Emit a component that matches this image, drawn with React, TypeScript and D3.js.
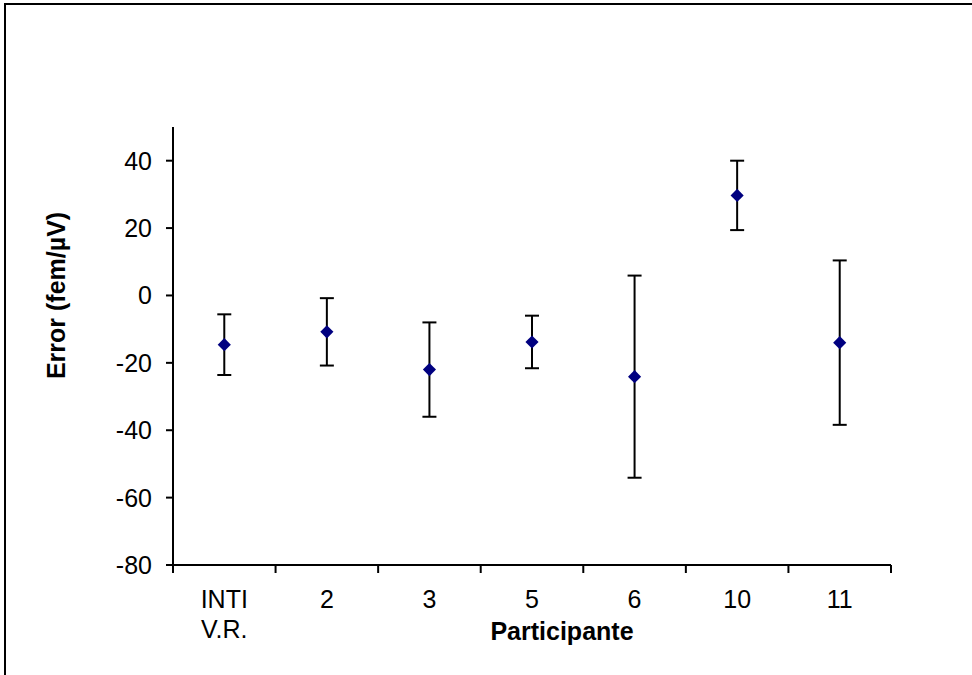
import React, { useRef, useEffect } from 'react';
import * as d3 from 'd3';

// participants (first one has two lines)
const participants = ['INTI\nV.R.', '2', '3', '5', '6', '10', '11'];
// error values and uncertainties (fem/µV)
const errors = [-14.6, -10.8, -22.0, -13.8, -24.1, 29.7, -14.0];
const uncertainties = [9.0, 10.0, 14.0, 7.8, 30.0, 10.3, 24.4];
const yTicks = [-80, -60, -40, -20, 0, 20, 40];

const W = 972;
const H = 675;
const FONT = 'Arial, "Liberation Sans", sans-serif';
const FS = 25;

const App = () => {
  const svgRef = useRef<SVGSVGElement | null>(null);

  useEffect(() => {
    if (!svgRef.current) return;
    const svg = d3.select(svgRef.current);
    svg.selectAll('*').remove();

    // outer frame of the chart area
    svg.append('rect')
      .attr('x', 5)
      .attr('y', 4)
      .attr('width', W + 20)
      .attr('height', H + 20)
      .attr('fill', '#fff')
      .attr('stroke', '#000')
      .attr('stroke-width', 2);

    const left = 173, right = 891, top = 127, bottom = 565;

    const x = d3.scaleBand<string>()
      .domain(participants)
      .range([left, right]);

    const y = d3.scaleLinear()
      .domain([-80, 50])
      .range([bottom, top]);

    // y axis
    svg.append('line')
      .attr('x1', left).attr('x2', left)
      .attr('y1', top).attr('y2', bottom)
      .attr('stroke', '#000').attr('stroke-width', 2);

    const yt = svg.append('g');
    yTicks.forEach(t => {
      yt.append('line')
        .attr('x1', left - 7).attr('x2', left)
        .attr('y1', y(t)).attr('y2', y(t))
        .attr('stroke', '#000').attr('stroke-width', 2);
      yt.append('text')
        .attr('x', 152)
        .attr('y', y(t))
        .attr('dy', '0.36em')
        .attr('text-anchor', 'end')
        .attr('font-family', FONT)
        .attr('font-size', FS)
        .text(t);
    });

    // x axis
    svg.append('line')
      .attr('x1', left).attr('x2', right)
      .attr('y1', bottom).attr('y2', bottom)
      .attr('stroke', '#000').attr('stroke-width', 2);

    const edges = participants.map(p => x(p) as number).concat([right]);
    edges.forEach(e => {
      svg.append('line')
        .attr('x1', e).attr('x2', e)
        .attr('y1', bottom).attr('y2', bottom + 8)
        .attr('stroke', '#000').attr('stroke-width', 2);
    });

    participants.forEach(p => {
      const cx = (x(p) as number) + x.bandwidth() / 2;
      const lines = p.split('\n');
      const txt = svg.append('text')
        .attr('x', cx)
        .attr('y', 608)
        .attr('text-anchor', 'middle')
        .attr('font-family', FONT)
        .attr('font-size', FS);
      lines.forEach((l, i) => {
        txt.append('tspan')
          .attr('x', cx)
          .attr('dy', i === 0 ? 0 : 30)
          .text(l);
      });
    });

    // error bars
    const marks = svg.append('g');
    participants.forEach((p, i) => {
      const cx = (x(p) as number) + x.bandwidth() / 2;
      const hi = y(errors[i] + uncertainties[i]);
      const lo = y(errors[i] - uncertainties[i]);
      marks.append('line')
        .attr('x1', cx).attr('x2', cx)
        .attr('y1', hi).attr('y2', lo)
        .attr('stroke', '#000').attr('stroke-width', 2);
      [hi, lo].forEach(yy => {
        marks.append('line')
          .attr('x1', cx - 7).attr('x2', cx + 7)
          .attr('y1', yy).attr('y2', yy)
          .attr('stroke', '#000').attr('stroke-width', 2);
      });
      marks.append('path')
        .attr('d', d3.symbol(d3.symbolDiamond2, 110)())
        .attr('transform', `translate(${cx},${y(errors[i])})`)
        .attr('fill', '#000080');
    });

    // axis titles
    svg.append('text')
      .attr('x', 562)
      .attr('y', 640)
      .attr('text-anchor', 'middle')
      .attr('font-family', FONT)
      .attr('font-size', FS)
      .attr('font-weight', 'bold')
      .text('Participante');

    svg.append('text')
      .attr('transform', `translate(65, ${y(0)}) rotate(-90)`)
      .attr('text-anchor', 'middle')
      .attr('font-family', FONT)
      .attr('font-size', FS)
      .attr('font-weight', 'bold')
      .text('Error (fem/µV)');
  }, []);

  return (
    <svg ref={svgRef} width={W} height={H}
      style={{ position: 'absolute', left: 0, top: 0, display: 'block' }} />
  );
};

export default App;
